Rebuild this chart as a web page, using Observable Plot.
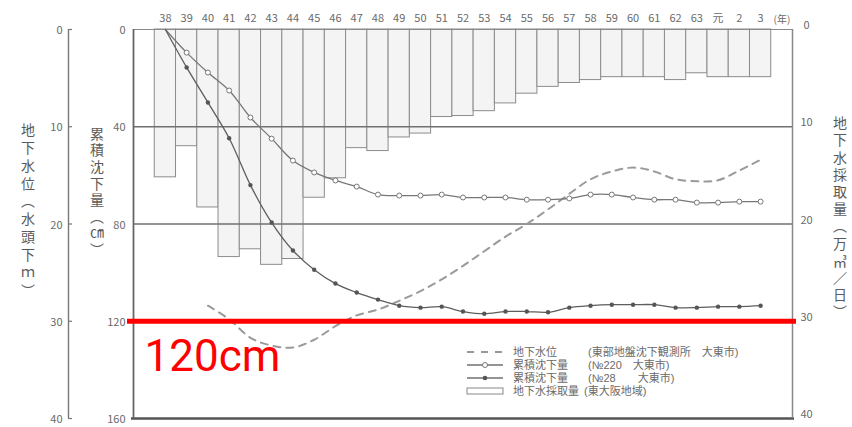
<!DOCTYPE html>
<html lang="ja">
<head>
<meta charset="utf-8">
<script src="https://cdn.jsdelivr.net/npm/d3@7"></script>
<script src="https://cdn.jsdelivr.net/npm/@observablehq/plot@0.6"></script>
<style>
  html, body { margin: 0; padding: 0; background: #fff; }
  #chart { width: 852px; height: 427px; }
  .vtitle { writing-mode: vertical-rl; text-anchor: middle; }
</style>
</head>
<body>
<div id="chart"></div>
<script>
// Fiscal years: Showa 38–63, then Heisei 元–3
const years = ["38","39","40","41","42","43","44","45","46","47","48","49","50","51","52",
               "53","54","55","56","57","58","59","60","61","62","63","元","2","3"];

// Groundwater pumping (万m³/日)
const pumping = [15.2,12.0,18.3,23.4,22.6,24.2,23.6,17.3,15.3,12.2,12.5,11.1,10.7,9.0,8.9,
                 8.4,7.6,6.6,5.9,5.5,5.2,4.9,4.9,4.9,5.2,4.5,4.9,4.9,4.9];

// Cumulative subsidence, benchmark No.220 (cm)
const subsidence220 = [0,9.5,17.7,25.1,36.2,44.9,53.9,58.8,62.1,64.6,67.9,68.3,68.3,67.9,69.1,
                       69.1,69.1,70.0,70.0,69.5,67.9,67.9,69.1,70.0,70.0,71.2,71.2,70.8,70.8];

// Cumulative subsidence, benchmark No.28 (cm)
const subsidence28 = [0,15.6,30.0,44.7,64.0,79.4,90.9,98.8,104.5,108.2,111.1,113.6,114.4,114.0,116.0,
                      116.9,116.0,116.0,116.3,114.4,113.6,113.2,113.2,113.2,114.4,114.4,114.0,114.0,113.6];

// Groundwater level (m below surface); no record before 昭和40
const groundwater = [null,null,28.4,29.8,31.7,32.5,32.7,31.9,30.5,29.4,28.8,27.9,26.9,25.7,24.3,
                     22.8,21.3,20.0,18.5,16.9,15.4,14.6,14.2,14.6,15.4,15.6,15.5,14.5,13.4];

// Axis ticks
const cmTicks = [0, 40, 80, 120, 160];
const sideTicks = [0, 10, 20, 30, 40];
const highlightLevel = 120;

// Axis titles (left outer, left inner, right)
const titleGroundwater = "地下水位（水頭下ｍ）";
const titleSubsidence = "累積沈下量（㎝）";
const titlePumping = "地下水採取量（万㎥／日）";

// Legend entries
const legendNames = ["地下水位", "累積沈下量", "累積沈下量", "地下水採取量"];
const legendSources = ["(東部地盤沈下観測所　大東市)", "(№220　大東市)", "(№28　　大東市)", "(東大阪地域)"];

// 40 units on the side axes span the same height as 160 cm
const k = 160 / 40;
const xMin = -1.5, xMax = years.length + 0.5;

const rows = years.map((year, i) => ({
  i, year,
  pumping: pumping[i],
  s220: subsidence220[i],
  s28: subsidence28[i],
  gw: groundwater[i]
}));

const grey = "#6a6a6a";

const chart = Plot.plot({
  width: 852,
  height: 427,
  marginTop: 29,
  marginBottom: 9,
  marginLeft: 133,
  marginRight: 60,
  x: { type: "linear", domain: [xMin, xMax], axis: null, label: null },
  y: { domain: [0, 160], reverse: true, axis: null, label: null },
  style: { fontFamily: "'Noto Sans CJK JP', 'Noto Sans', sans-serif", fontSize: "11px", color: grey, background: "#fff" },
  marks: [
    // pumping bars hanging from the top edge
    Plot.rect(rows, {
      x1: d => d.i - 0.5, x2: d => d.i + 0.5,
      y1: 0, y2: d => d.pumping * k,
      fill: "#f4f4f4", stroke: "#8c8c8c", strokeWidth: 1
    }),
    // horizontal guides
    Plot.ruleY(cmTicks.slice(1, 4), { stroke: "#707070", strokeWidth: 1.3 }),
    // frame
    Plot.ruleY([0], { stroke: "#8a8a8a", strokeWidth: 1.2 }),
    Plot.ruleY([160], { stroke: "#555", strokeWidth: 2.6, insetLeft: -2, insetRight: -2 }),
    Plot.ruleX([xMin], { stroke: "#666", strokeWidth: 1.8 }),
    Plot.ruleX([xMax], { stroke: "#888", strokeWidth: 1.5 }),

    // groundwater level (dashed)
    Plot.line(rows, {
      x: "i", y: d => d.gw == null ? NaN : d.gw * k,
      curve: "catmull-rom", stroke: "#9a9a9a", strokeWidth: 2, strokeDasharray: "7,6"
    }),
    // subsidence No.220 (open circles)
    Plot.line(rows, { x: "i", y: "s220", curve: "catmull-rom", stroke: "#777", strokeWidth: 1.3 }),
    Plot.dot(rows.filter(d => d.i > 0), { x: "i", y: "s220", r: 2.5, stroke: "#777", fill: "#fff", strokeWidth: 1 }),
    // subsidence No.28 (filled dots)
    Plot.line(rows, { x: "i", y: "s28", curve: "catmull-rom", stroke: "#5e5e5e", strokeWidth: 1.3 }),
    Plot.dot(rows.filter(d => d.i > 0), { x: "i", y: "s28", r: 2.2, fill: "#555" }),

    // year labels along the top
    Plot.axisX(rows.map(d => d.i), {
      anchor: "top", tickSize: 0, tickPadding: 8, label: null,
      tickFormat: i => years[i], color: grey, fontSize: 11
    }),
    Plot.text(["(年)"], { x: years.length, frameAnchor: "top", dy: -14, fontSize: 10, fill: grey }),

    // cumulative subsidence axis (cm) on the frame
    Plot.axisY(cmTicks, { anchor: "left", tickSize: 0, tickPadding: 8, label: null, color: grey, fontSize: 11, dy: 1 }),
    // pumping axis (万m³/日) on the right
    Plot.axisY(cmTicks, {
      anchor: "right", tickSize: 0, tickPadding: 14, textAnchor: "middle", label: null,
      tickFormat: d => d / k, color: grey, fontSize: 11, dy: -4
    }),

    // groundwater level axis (m), set off to the far left
    Plot.ruleX([xMin], { stroke: "#777", strokeWidth: 1.4, dx: -65 }),
    Plot.ruleY(sideTicks, { y: d => d * k, x1: xMin, x2: xMin, dx: -65, insetRight: -4, stroke: "#777", strokeWidth: 1.2 }),
    Plot.text(sideTicks, { y: d => d * k, text: d => String(d), frameAnchor: "left", dx: -71, dy: 1, textAnchor: "end", fill: grey, fontSize: 11 }),

    // 120 cm highlight
    Plot.ruleY([highlightLevel], { stroke: "#ff0000", strokeWidth: 5, insetLeft: -6, insetRight: -4 }),
    Plot.text([highlightLevel], {
      y: d => d, text: d => `${d}cm`, frameAnchor: "left", dx: 11, dy: 36,
      textAnchor: "start", fill: "#ff0000", fontSize: 44, fontFamily: "Roboto, sans-serif"
    })
  ]
});

document.getElementById("chart").append(chart);

const svg = d3.select(chart);

// vertical axis titles, set in vertical Japanese writing
const tg = svg.append("g").attr("fill", "#5a5a5a")
  .attr("font-family", "'Noto Sans CJK JP', sans-serif").attr("font-size", 14);
[
  { text: titleGroundwater, x: 28, y: 212, spacing: 3.9 },
  { text: titleSubsidence, x: 97, y: 193, spacing: 2.7 },
  { text: titlePumping, x: 840, y: 219, spacing: 3.2 }
].forEach(t => {
  tg.append("text").attr("class", "vtitle")
    .attr("x", t.x).attr("y", t.y)
    .style("letter-spacing", `${t.spacing}px`)
    .text(t.text);
});

// legend, lower right inside the frame (compact Latin metrics keep the rows tight)
const lg = svg.append("g").attr("font-size", 11).attr("fill", grey).attr("text-anchor", "start")
  .attr("font-family", "'Liberation Sans', 'Noto Sans CJK JP', sans-serif");
const rowY = [352, 365, 378, 391];
const symX0 = 467, symX1 = 503, symMid = 485;

lg.append("line").attr("x1", symX0).attr("x2", symX1).attr("y1", rowY[0]).attr("y2", rowY[0])
  .attr("stroke", "#999").attr("stroke-width", 2).attr("stroke-dasharray", "7,7");
[1, 2].forEach(r => {
  lg.append("line").attr("x1", symX0).attr("x2", symX1).attr("y1", rowY[r]).attr("y2", rowY[r])
    .attr("stroke", "#707070").attr("stroke-width", 1.3);
});
lg.append("circle").attr("cx", symMid).attr("cy", rowY[1]).attr("r", 2.5)
  .attr("fill", "#fff").attr("stroke", "#777");
lg.append("circle").attr("cx", symMid).attr("cy", rowY[2]).attr("r", 2.3).attr("fill", "#555");
lg.append("rect").attr("x", symX0).attr("y", rowY[3] - 3).attr("width", symX1 - symX0).attr("height", 6)
  .attr("fill", "#fff").attr("stroke", "#888");

legendNames.forEach((name, r) => {
  lg.append("text").attr("x", 513).attr("y", rowY[r] + 4).text(name);
  lg.append("text").attr("x", r === 3 ? 584 : 588).attr("y", rowY[r] + 4).text(legendSources[r]);
});
</script>
</body>
</html>
